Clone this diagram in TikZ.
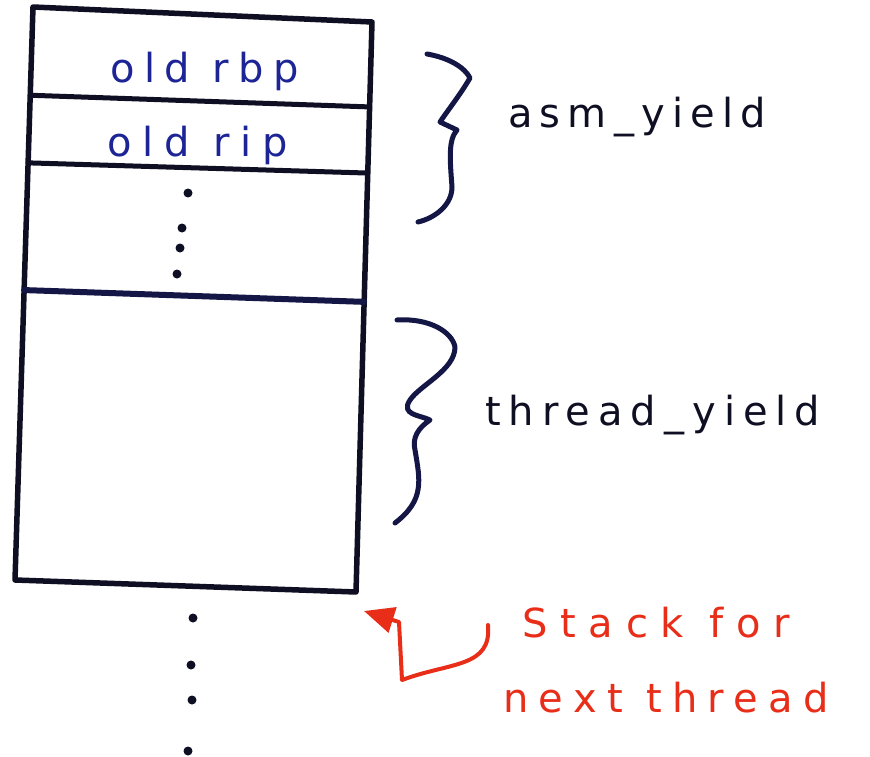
\documentclass[tikz,border=0pt]{standalone}
\usepackage{fontspec}
\setmainfont{DejaVu Sans}
\usetikzlibrary{arrows.meta,calc}
\definecolor{ink}{RGB}{15,15,35}
\definecolor{navy}{RGB}{20,22,70}
\definecolor{bluepen}{RGB}{28,36,150}
\definecolor{redpen}{RGB}{232,45,25}
\begin{document}
\begin{tikzpicture}[x=1pt,y=-1pt,line join=round,line cap=round,
  frame/.style={ink,line width=5.5pt},
  divider/.style={ink,line width=5pt},
  brace/.style={navy,line width=5pt},
  dotmark/.style={circle,fill=ink,inner sep=0pt,minimum size=9pt},
  lbl/.style={inner sep=0pt,anchor=base west},
  ls/.style={font=\fontsize{40}{48}\selectfont\addfontfeature{LetterSpace=#1}},
]
\useasboundingbox[fill=white] (0,0) rectangle (870,757);
% stack frame outline
\coordinate (TL) at (33,7);
\coordinate (TR) at (372,22);
\coordinate (BR) at (356,592);
\coordinate (BL) at (15,580);
\draw[frame] (TL) -- (TR) -- (BR) -- (BL) -- cycle;
\draw[divider] ($(TL)!0.154!(BL)$) -- ($(TR)!0.149!(BR)$);
\draw[divider] ($(TL)!0.272!(BL)$) -- ($(TR)!0.265!(BR)$);
\draw[frame,navy,line width=6pt] ($(TL)!0.494!(BL)$) -- ($(TR)!0.491!(BR)$);
% slot labels
\node[lbl,ls=24,bluepen] (rbp) at (110,83) {old rbp};
\node[lbl,ls=27,bluepen] (rip) at (107,157) {old rip};
% dots in the frame
\node[dotmark] (d1) at (188,193) {};
\node[dotmark] (d2) at (182,228) {};
\node[dotmark] (d3) at (180,248) {};
\node[dotmark] (d4) at (177,274) {};
% dots below the frame
\node[dotmark] (e1) at (193,618) {};
\node[dotmark] (e2) at (191,665) {};
\node[dotmark] (e3) at (192,700) {};
\node[dotmark] (e4) at (188,751) {};
% braces
\draw[brace] (427,54) .. controls (450,58) and (465,68) .. (470,78)
  .. controls (460,95) and (448,110) .. (440,122) -- (457,130)
  .. controls (448,140) and (450,160) .. (452,187)
  .. controls (452,205) and (435,218) .. (418,222);
\draw[brace] (397,320) .. controls (430,318) and (452,332) .. (455,347)
  .. controls (455,370) and (420,385) .. (410,400)
  .. controls (400,415) and (420,415) .. (430,420)
  .. controls (418,428) and (412,438) .. (415,450)
  .. controls (420,480) and (425,500) .. (395,523);
\node[lbl,ls=18,ink] (asm) at (508,128) {asm\_yield};
\node[lbl,ls=20,ink] (thr) at (485,425) {thread\_yield};
% red annotation
\node[lbl,ls=32,redpen] (stk) at (522,637) {Stack for};
\node[lbl,ls=26,redpen] (nxt) at (503,712) {next thread};
\coordinate (tail) at (488,625);
\coordinate (tip) at (364,611);
\draw[redpen,line width=4pt,-{Triangle[length=30pt,width=26pt]}]
  (tail) .. controls (492,668) and (450,662) .. (402,680) -- (399,622) -- (tip);
\end{tikzpicture}
\end{document}
